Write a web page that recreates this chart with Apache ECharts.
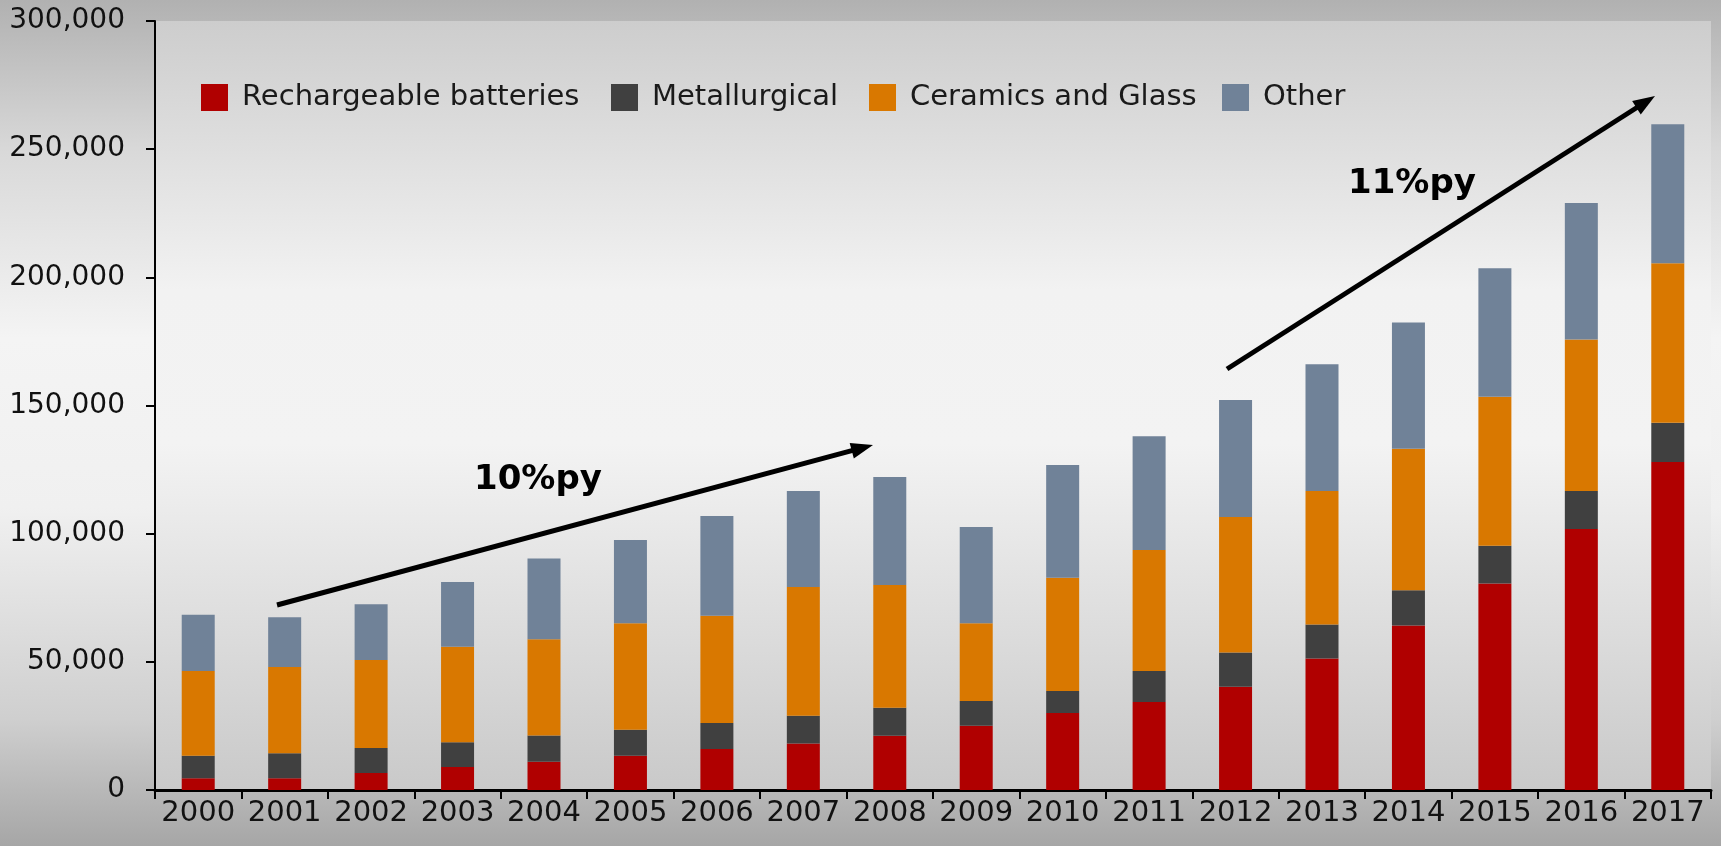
<!DOCTYPE html>
<html>
<head>
<meta charset="utf-8">
<script src="https://cdn.jsdelivr.net/npm/echarts@6/dist/echarts.min.js"></script>
<style>
  html, body { margin: 0; padding: 0; }
  body {
    width: 1721px; height: 846px; overflow: hidden;
    background: linear-gradient(to bottom, #b1b1b1 0%, #d9d9d9 18%, #f4f4f4 40%, #f0f0f0 60%, #cfcfcf 85%, #a6a6a6 100%);
  }
  #chart { width: 1721px; height: 846px; }
</style>
</head>
<body>
<div id="chart"></div>
<script>
var YEARS = ['2000', '2001', '2002', '2003', '2004', '2005', '2006', '2007', '2008',
    '2009', '2010', '2011', '2012', '2013', '2014', '2015', '2016', '2017'];

// tonnes
var BATTERIES = [4600, 4600, 6600, 9000, 11000, 13400, 16000, 18100, 21200,
    25100, 30000, 34300, 40300, 51300, 64200, 80600, 101800, 128000];
var METALLURGICAL = [8800, 9700, 9800, 9600, 10300, 10100, 10100, 10900, 10900,
    9600, 8600, 12100, 13300, 13300, 13700, 14700, 14800, 15300];
var CERAMICS = [33000, 33700, 34300, 37300, 37500, 41600, 41900, 50200, 47900,
    30400, 44200, 47200, 52900, 52000, 55200, 58100, 59100, 62200];
var OTHER = [22000, 19400, 21800, 25200, 31500, 32400, 38900, 37400, 42100,
    37500, 44000, 44400, 45600, 49500, 49300, 50100, 53300, 54200];

var SERIES_NAMES = ['Rechargeable batteries', 'Metallurgical', 'Ceramics and Glass', 'Other'];
var SERIES_COLORS = ['#b00000', '#404040', '#d97800', '#708298'];
var LEGEND_LEFT = [201, 611, 869, 1222];

var FONT = '"DejaVu Sans", "Noto Sans", sans-serif';

var chart = echarts.init(document.getElementById('chart'));

// straight arrow with a filled head, pixel coords
function arrow(x1, y1, x2, y2) {
    var dx = x2 - x1, dy = y2 - y1;
    var len = Math.sqrt(dx * dx + dy * dy);
    var ux = dx / len, uy = dy / len;
    var head = 22, half = 8;
    var bx = x2 - ux * head, by = y2 - uy * head;
    return {
        type: 'group',
        children: [
            {
                type: 'line',
                shape: {x1: x1, y1: y1, x2: bx + ux * 2, y2: by + uy * 2},
                style: {stroke: '#000', lineWidth: 5}
            },
            {
                type: 'polygon',
                shape: {points: [[x2, y2], [bx - uy * half, by + ux * half], [bx + uy * half, by - ux * half]]},
                style: {fill: '#000'}
            }
        ]
    };
}

var seriesData = [BATTERIES, METALLURGICAL, CERAMICS, OTHER];
var series = seriesData.map(function(values, idx) {
    return {
        name: SERIES_NAMES[idx],
        type: 'bar',
        stack: 'total',
        barWidth: 33,
        data: values,
        itemStyle: {color: SERIES_COLORS[idx]}
    };
});

var legends = SERIES_NAMES.map(function(name, idx) {
    return {
        left: LEGEND_LEFT[idx],
        top: 83,
        padding: 0,
        data: [name],
        itemWidth: 27,
        itemHeight: 27,
        icon: 'rect',
        itemGap: 0,
        textStyle: {
            fontFamily: FONT,
            fontSize: 29,
            color: '#1a1a1a',
            padding: [0, 0, 0, 9]
        }
    };
});

var option = {
    animation: false,
    backgroundColor: 'transparent',
    legend: legends,
    grid: {
        left: 155,
        right: 10,
        top: 21,
        bottom: 56,
        show: true,
        borderWidth: 0,
        backgroundColor: new echarts.graphic.LinearGradient(0, 0, 0, 1, [
            {offset: 0, color: '#cdcdcd'},
            {offset: 0.35, color: '#f2f2f2'},
            {offset: 0.55, color: '#f3f3f3'},
            {offset: 1, color: '#c9c9c9'}
        ])
    },
    xAxis: {
        type: 'category',
        data: YEARS,
        axisLine: {lineStyle: {color: '#000', width: 3}},
        axisTick: {show: true, length: 9, lineStyle: {color: '#000', width: 2}},
        axisLabel: {
            fontFamily: FONT,
            fontSize: 29,
            color: '#111',
            margin: 9,
            interval: 0
        }
    },
    yAxis: {
        type: 'value',
        min: 0,
        max: 300000,
        interval: 50000,
        splitLine: {show: false},
        axisLine: {show: true, lineStyle: {color: '#000', width: 2}},
        axisTick: {show: true, length: 9, lineStyle: {color: '#000', width: 2}},
        axisLabel: {
            fontFamily: FONT,
            fontSize: 28,
            color: '#111',
            margin: 30,
            formatter: function(v) {
                return v.toLocaleString('en-US');
            }
        }
    },
    graphic: [
        arrow(277, 605, 873, 445),
        arrow(1227, 369, 1655, 96),
        {
            type: 'text',
            x: 538,
            y: 480,
            style: {
                text: '10%py',
                font: 'bold 34px ' + FONT,
                fill: '#000',
                textAlign: 'center',
                textVerticalAlign: 'middle'
            }
        },
        {
            type: 'text',
            x: 1412,
            y: 184,
            style: {
                text: '11%py',
                font: 'bold 34px ' + FONT,
                fill: '#000',
                textAlign: 'center',
                textVerticalAlign: 'middle'
            }
        }
    ],
    series: series
};

chart.setOption(option);
</script>
</body>
</html>
